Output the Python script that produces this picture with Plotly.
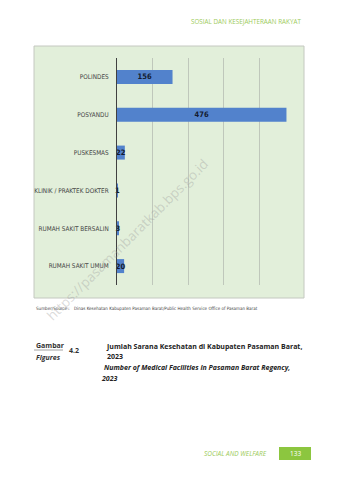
import plotly.graph_objects as go

categories = ["POLINDES", "POSYANDU", "PUSKESMAS", "KLINIK / PRAKTEK DOKTER",
              "RUMAH SAKIT BERSALIN", "RUMAH SAKIT UMUM"]
values = [156, 476, 22, 1, 3, 20]
x_ticks = [0, 100, 200, 300, 400, 500]

W, H = 338, 480
L, R, T, B = 117, 295, 58, 285   # plot area in pixels


def px(xp):
    return (xp - L) / (R - L)


def py(yp):
    return (B - yp) / (B - T)


NARROW = "Liberation Sans Narrow, Arial Narrow, DejaVu Sans Condensed, sans-serif"
OPEN = "Open Sans, Noto Sans, sans-serif"

fig = go.Figure()
fig.add_trace(go.Bar(
    y=categories, x=values, orientation="h",
    marker=dict(color="#5282cc", line=dict(width=0)),
    text=[str(v) for v in values],
    textposition="inside", insidetextanchor="middle", constraintext="none", textangle=0,
    textfont=dict(family=NARROW, size=7.5, color="#141c30", weight="bold"),
    cliponaxis=False, hoverinfo="skip",
))

shapes = [
    dict(type="rect", xref="paper", yref="paper", x0=px(34), x1=px(304), y0=py(298), y1=py(46),
         fillcolor="#e2efda", line=dict(color="#c4c8c0", width=1), layer="below"),
    dict(type="line", xref="paper", yref="paper", x0=px(34), x1=px(63), y0=py(350), y1=py(350),
         line=dict(color="#8a8a8a", width=0.8)),
    dict(type="rect", xref="paper", yref="paper", x0=px(279), x1=px(311), y0=py(460), y1=py(447),
         fillcolor="#8cc63f", line=dict(width=0), layer="above"),
]


def ann(text, x, y, size, color="#333333", family=OPEN, xanchor="left", bold=False, italic=False, angle=0):
    return dict(text=text, x=px(x), y=py(y), xref="paper", yref="paper", xanchor=xanchor,
                yanchor="middle", showarrow=False, textangle=angle,
                font=dict(family=family, size=size, color=color,
                          weight="bold" if bold else "normal",
                          style="italic" if italic else "normal"))


annotations = [
    ann("SOSIAL DAN KESEJAHTERAAN RAKYAT", 303, 21, 6.3, color="#9ccb5a", xanchor="right"),
    ann("Sumber/Source :", 34, 308, 4.5, color="#444444", family=NARROW),
    ann("Dinas Kesehatan Kabupaten Pasaman Barat/Public Health Service Office of Pasaman Barat",
        72, 308, 4.5, color="#444444", family=NARROW),
    ann("Gambar", 34, 345, 7, bold=True),
    ann("Figures", 34, 357, 7, bold=True, italic=True),
    ann("4.2", 67, 350, 7, bold=True),
    ann("Jumlah Sarana Kesehatan di Kabupaten Pasaman Barat,", 104, 346, 7, bold=True, color="#222222"),
    ann("2023", 105, 356, 7, bold=True, color="#222222"),
    ann("Number of Medical Facilities in Pasaman Barat Regency,", 102, 367, 7, bold=True, italic=True, color="#222222"),
    ann("2023", 99, 378, 7, bold=True, italic=True, color="#222222"),
    ann("SOCIAL AND WELFARE", 269, 453, 6.5, color="#9ccb5a", italic=True, xanchor="right"),
    ann("133", 295, 453, 6.5, color="#ffffff", xanchor="center"),
    ann("https://pasamanbaratkab.bps.go.id", 127, 240, 13.5, color="rgba(150,150,150,0.35)",
        xanchor="center", angle=-45),
]

fig.update_layout(
    width=W, height=H,
    margin=dict(l=L, r=W - R, t=T, b=H - B, pad=0),
    paper_bgcolor="#ffffff", plot_bgcolor="rgba(0,0,0,0)",
    bargap=0.63, showlegend=False,
    shapes=shapes, annotations=annotations,
    xaxis=dict(range=[0, 500], tickvals=x_ticks, showticklabels=False, showgrid=True,
               gridcolor="#bfc7bb", gridwidth=1, zeroline=False, showline=False, fixedrange=True),
    yaxis=dict(categoryorder="array", categoryarray=categories, autorange="reversed",
               showline=True, linecolor="#404040", linewidth=1, showgrid=False,
               ticks="", ticklabelstandoff=6,
               tickfont=dict(family="DejaVu Sans Condensed, sans-serif", size=6.4, color="#454545"),
               fixedrange=True),
)

fig.write_html("out.html", config={"displayModeBar": False})
